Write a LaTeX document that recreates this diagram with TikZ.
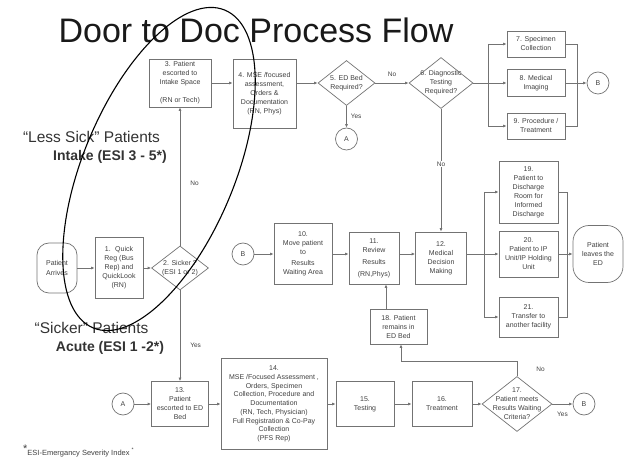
\documentclass[tikz,border=0pt]{standalone}
\usepackage{fontspec}
\setmainfont{Liberation Sans}
\usetikzlibrary{shapes.geometric,arrows.meta}
\definecolor{boxline}{gray}{0.45}
\definecolor{boxtext}{gray}{0.25}
\definecolor{sidetext}{gray}{0.2}
\newcommand{\dlab}[1]{\makebox[0pt]{\smash{\raisebox{-1.7pt}{\begin{tabular}{@{}c@{}}#1\end{tabular}}}}}

\begin{document}
\begin{tikzpicture}[x=1pt,y=1pt,
	box/.style={draw=boxline, line width=0.7pt, text=boxtext, align=center, inner sep=1pt, font=\fontsize{7}{9}\selectfont},
	decision/.style={diamond, draw=boxline, line width=0.7pt, text=boxtext, inner sep=0pt, font=\fontsize{7}{9}\selectfont},
	conn/.style={circle, draw=boxline, line width=0.7pt, minimum size=22pt, inner sep=0pt, text=boxtext, font=\fontsize{7}{9}\selectfont},
	flow/.style={draw=boxline, line width=0.7pt, -{Latex[length=3.5pt,width=3pt]}},
	line/.style={draw=boxline, line width=0.7pt},
	yn/.style={text=boxtext, font=\fontsize{6.5}{8}\selectfont, inner sep=1pt}]
	\useasboundingbox (0,0) rectangle (627,461);
	
	\node (title) at (256,418) [anchor=base, font=\fontsize{34}{40}\selectfont, text=black!90] {Door to Doc Process Flow};
	
	% top row
	\node[box, minimum width=62, minimum height=48] (b3) at (180,378) {3. Patient\\escorted to\\Intake Space\\[9pt](RN or Tech)};
	\node[box, minimum width=63, minimum height=69] (b4) at (264.5,367.5) {4. MSE /focused\\assessment,\\Orders \&\\Documentation\\(RN, Phys)};
	\node[decision, minimum width=57, minimum height=45] (d5) at (346.5,378) {\dlab{5. ED Bed\\Required?}};
	\node[decision, minimum width=64, minimum height=51] (d6) at (441,378) {\dlab{6. Diagnostic\\Testing\\Required?}};
	\node[conn] (a1) at (346.5,322) {A};
	\node[box, minimum width=58, minimum height=26] (b7) at (536,417) {7. Specimen\\Collection};
	\node[box, minimum width=58, minimum height=27] (b8) at (536,378) {8. Medical\\Imaging};
	\node[box, minimum width=58, minimum height=26] (b9) at (536,335) {9. Procedure /\\Treatment};
	\node[conn] (bt) at (598,378) {B};
	\coordinate (split1) at (488,378);
	\coordinate (merge1) at (577,378);
	
	\draw[flow] (b3.east) -- (b3.east -| b4.west);
	\draw[flow] (b3.east -| b4.east) -- (d5.west);
	\draw[flow] (d5.east) -- (d6.west) node[yn, midway, above=5pt] {No};
	\draw[flow] (d5.south) -- (a1.north) node[yn, midway, right=3pt] {Yes};
	\draw[line] (d6.east) -- (split1);
	\draw[line] (split1 |- b7.west) -- (split1 |- b9.west);
	\draw[flow] (split1 |- b7.west) -- (b7.west);
	\draw[flow] (split1) -- (b8.west);
	\draw[flow] (split1 |- b9.west) -- (b9.west);
	\draw[line] (b7.east) -- (merge1 |- b7.east) -- (merge1 |- b9.east) -- (b9.east);
	\draw[line] (b8.east) -- (merge1);
	\draw[flow] (merge1) -- (bt.west);
	
	% middle row
	\node[conn] (bm) at (243,207) {B};
	\node[box, minimum width=58, minimum height=61] (b10) at (303,207) {10.\\Move patient\\to\\[2pt]Results\\Waiting Area};
	\node[box, minimum width=50, minimum height=52] (b11) at (374,203) {11.\\Review\\[3pt]Results\\[3pt](RN,Phys)};
	\node[box, minimum width=51, minimum height=52] (b12) at (441,203) {12.\\Medical\\Decision\\Making};
	\node[box, minimum width=57, minimum height=35] (b18) at (398.5,134.5) {18. Patient\\remains in\\ED Bed};
	\node[box, minimum width=59, minimum height=62] (b19) at (528.5,269) {19.\\Patient to\\Discharge\\Room for\\Informed\\Discharge};
	\node[box, minimum width=59, minimum height=46] (b20) at (528.5,207) {20.\\Patient to IP\\Unit/IP Holding\\Unit};
	\node[box, minimum width=59, minimum height=40] (b21) at (528.5,144) {21.\\Transfer to\\another facility};
	\node[box, rounded corners=16pt, minimum width=50, minimum height=57] (tend) at (598,207) {Patient\\leaves the\\ED};
	\coordinate (split2) at (484,207);
	\coordinate (merge2) at (567,207);
	
	\draw[flow] (bm) -- (b10);
	\draw[flow] (b10.east) -- (b10.east -| b11.west);
	\draw[flow] (b10.east -| b11.east) -- (b10.east -| b12.west);
	\draw[flow] (d6.south) -- (b12.north) node[yn, pos=0.45, fill=white] {No};
	\draw[flow] ([xshift=-12.5pt]b18.north) -- ([xshift=-12.5pt]b18.north |- b11.south);
	\draw[line] (b12.east |- split2) -- (split2);
	\draw[line] (split2 |- b19.west) -- (split2 |- b21.west);
	\draw[flow] (split2 |- b19.west) -- (b19.west);
	\draw[flow] (split2) -- (b20.west);
	\draw[flow] (split2 |- b21.west) -- (b21.west);
	\draw[line] (b19.east) -- (merge2 |- b19.east) -- (merge2 |- b21.east) -- (b21.east);
	\draw[line] (b20.east) -- (merge2);
	\draw[flow] (merge2) -- (tend.west);
	
	% left side
	\node[box, rounded corners=12pt, minimum width=40, minimum height=50] (arr) at (57,193) {Patient\\Arrives};
	\node[box, minimum width=48, minimum height=61] (b1) at (119,193) {1.~ Quick\\Reg (Bus\\Rep) and\\QuickLook\\(RN)};
	\node[decision, minimum width=57, minimum height=44] (d2) at (180,193) {\dlab{2. Sicker ?\\(ESI 1 or 2)}};
	
	\draw[flow] (arr) -- (b1);
	\draw[flow] (b1) -- (d2);
	\draw[flow] (d2.north) -- (b3.south) node[yn, pos=0.45, right=9pt] {No};
	
	% bottom row
	\node[conn] (a2) at (123,57) {A};
	\node[box, minimum width=57, minimum height=45] (b13) at (180,57) {13.\\Patient\\escorted to ED\\Bed};
	\node[box, minimum width=106, minimum height=91, font=\fontsize{7}{8.7}\selectfont] (b14) at (274,57) {14.\\MSE /Focused Assessment ,\\Orders, Specimen\\Collection, Procedure and\\Documentation\\(RN, Tech, Physician)\\Full Registration \& Co-Pay\\Collection\\(PFS Rep)};
	\node[box, minimum width=58, minimum height=45] (b15) at (365,57) {15.\\Testing};
	\node[box, minimum width=60, minimum height=45] (b16) at (442,57) {16.\\Treatment};
	\node[decision, minimum width=70, minimum height=55] (d17) at (517,57) {\dlab{17.\\Patient meets\\Results Waiting\\Criteria?}};
	\node[conn] (bb) at (584,57) {B};
	
	\draw[flow] (d2.south) -- (b13.north) node[yn, pos=0.6, right=9pt] {Yes};
	\draw[flow] (a2) -- (b13);
	\draw[flow] (b13) -- (b14);
	\draw[flow] (b14) -- (b15);
	\draw[flow] (b15) -- (b16);
	\draw[flow] (b16) -- (d17);
	\draw[flow] (d17) -- (bb) node[yn, midway, below=7pt] {Yes};
	\draw[flow] (d17.north) -- ++(0,14.5) node[yn, midway, right=18pt] {No} -| ([xshift=2.5pt]b18.south);
	
	% side texts
	\node (lesssick) at (91.5,324) [font=\fontsize{15.5}{18}\selectfont, text=sidetext] {“Less Sick” Patients};
	\node (intake) at (110,304) [font=\bfseries\fontsize{14}{16}\selectfont, text=sidetext] {Intake (ESI 3 - 5*)};
	\node (sicker) at (91.5,133) [font=\fontsize{15.5}{18}\selectfont, text=sidetext] {“Sicker” Patients};
	\node (acute) at (110,113) [font=\bfseries\fontsize{14}{16}\selectfont, text=sidetext] {Acute (ESI 1 -2*)};
	\node (fnote) at (23,6) [anchor=base west, inner sep=0pt, font=\fontsize{7.5}{9}\selectfont, text=boxtext] {\raisebox{2.5pt}{\fontsize{11}{11}\selectfont *}ESI-Emergancy Severity Index \textsuperscript{*}};
	
	% hand-drawn ring
	\draw[black, line width=1.1pt, rotate around={67.5:(159,292)}] (159,292) ellipse [x radius=172, y radius=76];
\end{tikzpicture}
\end{document}
